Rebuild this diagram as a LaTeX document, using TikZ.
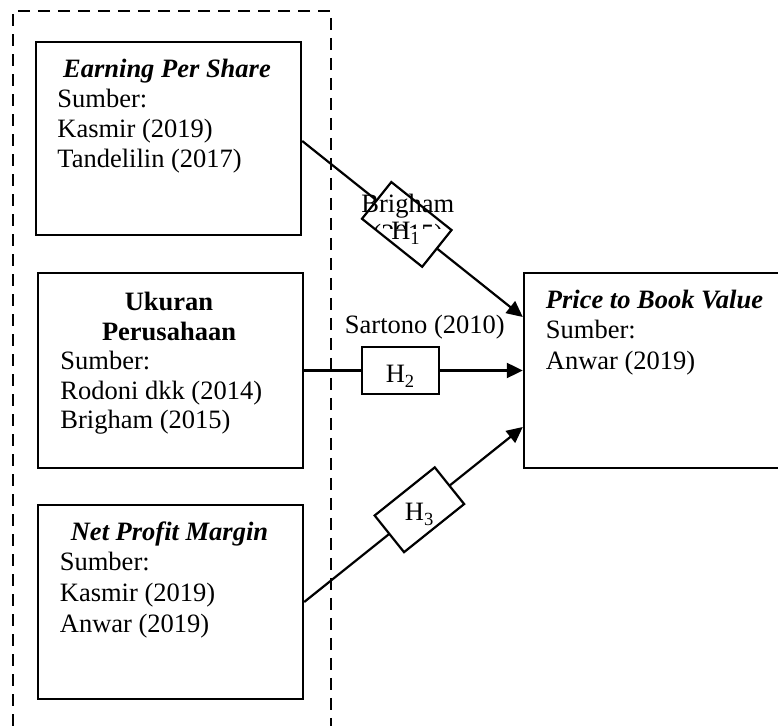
\documentclass[tikz,border=0pt]{standalone}
\usepackage{fontspec}
\setmainfont{Liberation Serif}
\usetikzlibrary{arrows.meta,calc}
\newcommand{\diafs}{\fontsize{13.25pt}{15pt}\selectfont}
\begin{document}
\begin{tikzpicture}[x=0.5pt,y=-0.5pt,
  box/.style={draw, line width=1.2pt, inner sep=0, minimum width=132.5pt, minimum height=97pt},
  hbox/.style={draw, fill=white, line width=1.1pt, inner sep=0, minimum width=38.5pt, minimum height=23.5pt},
  txt/.style={inner sep=0, anchor=base west, font=\diafs},
  ctxt/.style={inner sep=0, anchor=base, font=\diafs},
  ttl/.style={inner sep=0, anchor=base, font=\diafs\bfseries\itshape},
  ttlw/.style={inner sep=0, anchor=base west, font=\diafs\bfseries\itshape},
  ttlb/.style={inner sep=0, anchor=base, font=\diafs\bfseries},
  conn/.style={line width=1.1pt, -{Triangle[length=8pt,width=7.5pt]}},
  frame/.style={line width=1.1pt, dash pattern=on 6pt off 4pt}]
\useasboundingbox (0,0) rectangle (778,726);
\clip (0,0) rectangle (778,726);

% dashed frame (open at the bottom)
\draw[frame] (13,726) -- (13,11) -- (331,11) -- (331,726);

% boxes
\node[box, minimum height=96.5pt] (eps) at (168.5,138.5) {};
\node[box, minimum height=97.5pt] (uk) at (170.5,370.5) {};
\node[box, minimum height=97pt] (npm) at (170.5,602) {};
\node[box, minimum width=138pt, minimum height=97.5pt] (pbv) at (662,370.5) {};

% texts box 1
\node[ttl] (epsT) at (167,78) {Earning Per Share};
\node[txt] (epsS) at (57,107.5) {Sumber:};
\node[txt] (epsA) at (57,137.5) {Kasmir (2019)};
\node[txt] (epsB) at (57,167.5) {Tandelilin (2017)};

% texts box 2
\node[ttlb] (ukT1) at (169,311) {Ukuran};
\node[ttlb] (ukT2) at (169,341) {Perusahaan};
\node[txt] (ukS) at (60,370) {Sumber:};
\node[txt] (ukA) at (60,399.5) {Rodoni dkk (2014)};
\node[txt] (ukB) at (60,429) {Brigham (2015)};

% texts box 3
\node[ttl] (npmT) at (169.5,541) {Net Profit Margin};
\node[txt] (npmS) at (59.5,571) {Sumber:};
\node[txt] (npmA) at (59.5,602) {Kasmir (2019)};
\node[txt] (npmB) at (59.5,632.5) {Anwar (2019)};

% texts right box
\node[ttlw] (pbvT) at (545.5,308.3) {Price to Book Value};
\node[txt] (pbvS) at (545.5,338.3) {Sumber:};
\node[txt] (pbvA) at (545.5,369.3) {Anwar (2019)};

% connectors
\draw[conn] ([yshift=-1.25pt]eps.east) -- ([yshift=26.75pt]pbv.west)
  node[hbox, sloped, pos=0.474] (h1r) {};
\draw[conn] (uk.east) -- (pbv.west)
  node[hbox, pos=0.44] (h2r) {};
\draw[conn] (npm.east) -- ([yshift=-28.25pt]pbv.west)
  node[hbox, sloped, pos=0.527] (h3r) {};

% labels
\node[ctxt] (brig) at (407.8,212.7) {Brigham};
\begin{scope}
  \clip (355,219) rectangle (455,228.5);
  \node[ctxt] (brigY) at (407.8,242.7) {(2015)};
\end{scope}
\node[ctxt] (h1t) at (406,240) {H\textsubscript{1}};
\node[ctxt] (sart) at (424.8,333.3) {Sartono (2010)};
\node[ctxt] (h2t) at (400.5,383) {H\textsubscript{2}};
\node[ctxt] (h3t) at (419.7,521) {H\textsubscript{3}};
\end{tikzpicture}
\end{document}
